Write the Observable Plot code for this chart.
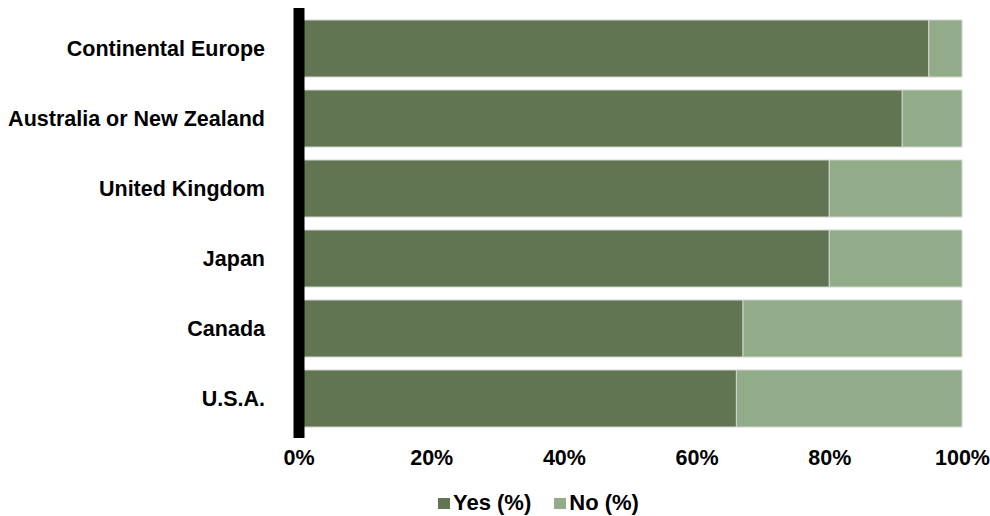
<!DOCTYPE html>
<html>
<head>
<meta charset="utf-8">
<script src="https://cdn.jsdelivr.net/npm/d3@7"></script>
<script src="https://cdn.jsdelivr.net/npm/@observablehq/plot@0.6"></script>
<style>
  body { margin: 0; background: #fff; font-family: "Liberation Sans", Arial, sans-serif; }
  #chart { width: 990px; }
  .legend { display: flex; align-items: center; height: 46px; padding-left: 438px; font-weight: bold; font-size: 22px; color: #000; }
  .legend .item { display: flex; align-items: center; margin-right: 23px; }
  .legend .sw { width: 12px; height: 11px; margin-right: 3px; }
</style>
</head>
<body>
<div id="chart"></div>
<script>
const regions = ["Continental Europe", "Australia or New Zealand", "United Kingdom", "Japan", "Canada", "U.S.A."];
const yesValues = [95, 91, 80, 80, 67, 66];
const noValues = [5, 9, 20, 20, 33, 34];
const seriesNames = ["Yes (%)", "No (%)"];
const seriesColors = ["#617552", "#92ab88"];
const xTicks = [0, 20, 40, 60, 80, 100];

const rows = [];
regions.forEach((r, i) => {
  rows.push({region: r, series: seriesNames[0], value: yesValues[i]});
  rows.push({region: r, series: seriesNames[1], value: noValues[i]});
});

const plot = Plot.plot({
  width: 990,
  height: 480,
  marginLeft: 298.5,
  marginRight: 28,
  marginTop: 12.5,
  marginBottom: 46,
  style: {fontFamily: "'Liberation Sans', Arial, sans-serif", fontWeight: "bold", fontSize: "21.5px", color: "#000"},
  x: {domain: [0, 100], ticks: xTicks, tickFormat: d => d + "%", label: null},
  y: {domain: regions, paddingInner: 0.18, paddingOuter: 0.09, label: null},
  color: {domain: seriesNames, range: seriesColors},
  marks: [
    Plot.barX(rows, Plot.stackX({x: "value", y: "region", fill: "series", order: seriesNames, stroke: "#d4d4d4", strokeWidth: 1})),
    Plot.ruleX([0], {stroke: "#000", strokeWidth: 11, insetTop: -4.5, insetBottom: -4}),
    Plot.axisX({ticks: xTicks, tickFormat: d => d + "%", tickSize: 0, tickPadding: 15.5, fontSize: 21.5, fontWeight: "bold", label: null}),
    Plot.axisY({tickSize: 0, tickPadding: 34, fontSize: 21.5, fontWeight: "bold", label: null})
  ]
});
document.getElementById("chart").appendChild(plot);

const legend = document.createElement("div");
legend.className = "legend";
seriesNames.forEach((s, i) => {
  const item = document.createElement("div");
  item.className = "item";
  const sw = document.createElement("span");
  sw.className = "sw";
  sw.style.background = seriesColors[i];
  const t = document.createElement("span");
  t.textContent = s;
  item.appendChild(sw);
  item.appendChild(t);
  legend.appendChild(item);
});
document.getElementById("chart").appendChild(legend);
</script>
</body>
</html>
